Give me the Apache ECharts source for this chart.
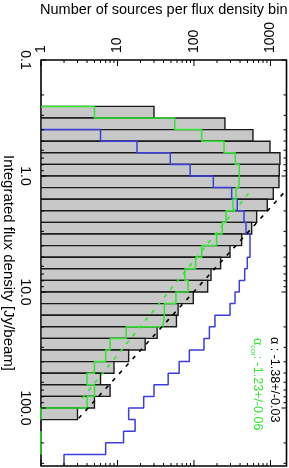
<!DOCTYPE html>
<html><head><meta charset="utf-8">
<script src="https://cdn.jsdelivr.net/npm/echarts@6/dist/echarts.min.js"></script>
<style>html,body{margin:0;padding:0;background:#fff}#c{width:289px;height:468px}</style>
</head><body><div id="c"></div>
<script>
// ---- data ----
const binLogEdges = [-0.6,-0.5,-0.4,-0.3,-0.2,-0.1,0.0,0.1,0.2,0.3,0.4,0.5,0.6,0.7,0.8,0.9,1.0,1.1,1.2,1.3,1.4,1.5,1.6,1.7,1.8,1.9,2.0,2.1,2.2,2.3,2.4,2.5];
const totalCounts = [30,254,590,985,1330,1303,1292,1088,908,660,568,420,296,223,167,151,98,62,59,33,23,14,9,6,8,5,3,0,0,0,0];
const blueCounts  = [null,null,6,18,49,89,179,311,368,451,479,540,540,498,460,391,344,296,188,159,135,87,64,46,30,22,14,17,12,7,2];
const greenCounts = [5,56,126,247,347,391,388,354,324,262,234,198,126,105,76,84,58,41,39,13,8,7,5,4,5,4,1,null,1,1,null];
const xTickLabels = ['1','10','100','1000'];
const yTickLabels = ['0.1','1.0','10.0','100.0'];
const fitAll = {alpha:-1.38, err:0.03, logNorm:3.375, logSmin:0.15, logSmax:2.1};
const fitCor = {alpha:-1.23, err:0.06, logNorm:2.897, logSmin:0.15, logSmax:1.95};
const xMin = 1, xMax = 1620, yMin = 0.1, yMax = 316.2278;

// ---- helpers ----
const BLUE = '#3c3ce0', GREEN = '#2ee82e', FONT = 'Liberation Sans, Arial, sans-serif';
function isPow10(v){ const l = Math.log10(v); return Math.abs(l - Math.round(l)) < 1e-6; }
function edge(i){ return Math.pow(10, binLogEdges[i]); }
function stepSegments(counts){
  const segs = []; let cur = null;
  for (let i = 0; i < counts.length; i++){
    const v = counts[i], lo = edge(i), hi = edge(i+1);
    if (v == null){ if (cur){ cur.push([xMin, lo]); segs.push(cur); cur = null; } continue; }
    if (!cur) cur = [[xMin, lo]];
    cur.push([v, lo], [v, hi]);
  }
  if (cur) segs.push(cur);
  return segs;
}
function fitLine(f){
  return [f.logSmin, f.logSmax].map(ls => [Math.pow(10, f.logNorm + f.alpha*ls), Math.pow(10, ls)]);
}
const barData = [];
totalCounts.forEach((c, i) => { if (c > 1) barData.push([c, edge(i), edge(i+1)]); });
const xTickVals = [], yTickVals = [];
for (let d = 1; d <= 1000; d *= 10) for (let k = 1; k <= 9; k++){ const v = k*d; if (v >= xMin && v <= xMax) xTickVals.push(v); }
for (let d = 0.1; d <= 100.0001; d *= 10) for (let k = 1; k <= 9; k++){ const v = +(k*d).toPrecision(6); if (v >= yMin && v <= yMax) yTickVals.push(v); }

const series = [];
series.push({
  type:'custom', coordinateSystem:'cartesian2d', data: barData, encode:{x:0, y:[1,2]}, z:2, silent:true, clip:true,
  renderItem: (params, api) => {
    const p1 = api.coord([xMin, api.value(1)]), p2 = api.coord([api.value(0), api.value(2)]);
    return {type:'rect', shape:{x:p1[0], y:Math.min(p1[1],p2[1]), width:p2[0]-p1[0], height:Math.abs(p2[1]-p1[1])},
      style:{fill:'#c8c8c8', stroke:'#1a1a1a', lineWidth:1.4}};
  }
});
stepSegments(blueCounts).forEach(seg => series.push({type:'line', data:seg, symbol:'none', z:3, silent:true, clip:true, lineStyle:{color:BLUE, width:1.5}}));
stepSegments(greenCounts).forEach(seg => series.push({type:'line', data:seg, symbol:'none', z:4, silent:true, clip:true, lineStyle:{color:GREEN, width:1.5}}));
series.push({type:'line', data:fitLine(fitAll), symbol:'none', z:5, silent:true, clip:true, lineStyle:{color:'#000', width:1.6, type:[4,6]}});
series.push({type:'line', data:fitLine(fitCor), symbol:'none', z:5, silent:true, clip:true, lineStyle:{color:GREEN, width:1.6, type:[4,6]}});
// axis ticks (log minor ticks on all four sides)
series.push({
  type:'custom', coordinateSystem:'cartesian2d', data: xTickVals.map(v => [v, yMin]), encode:{x:0, y:1}, z:6, silent:true,
  renderItem: (params, api) => {
    const cs = params.coordSys, v = api.value(0), px = api.coord([v, yMin])[0], L = isPow10(v) ? 6 : 3;
    return {type:'group', children:[
      {type:'line', shape:{x1:px, y1:cs.y, x2:px, y2:cs.y+L}, style:{stroke:'#000', lineWidth:1}},
      {type:'line', shape:{x1:px, y1:cs.y+cs.height, x2:px, y2:cs.y+cs.height-L}, style:{stroke:'#000', lineWidth:1}}]};
  }
});
series.push({
  type:'custom', coordinateSystem:'cartesian2d', data: yTickVals.map(v => [xMin, v]), encode:{x:0, y:1}, z:6, silent:true,
  renderItem: (params, api) => {
    const cs = params.coordSys, v = api.value(1), py = api.coord([xMin, v])[1], L = isPow10(v) ? 5 : 3;
    return {type:'group', children:[
      {type:'line', shape:{x1:cs.x, y1:py, x2:cs.x+L, y2:py}, style:{stroke:'#000', lineWidth:1}},
      {type:'line', shape:{x1:cs.x+cs.width, y1:py, x2:cs.x+cs.width-L, y2:py}, style:{stroke:'#000', lineWidth:1}}]};
  }
});

const chart = echarts.init(document.getElementById('c'), null, {renderer:'canvas'});
chart.setOption({
  animation:false,
  textStyle:{fontFamily:FONT},
  grid:{left:41, right:2.5, top:60, bottom:2, containLabel:false, outerBoundsMode:'none', show:true, borderColor:'#000', borderWidth:1.6, backgroundColor:'transparent'},
  xAxis:{type:'log', logBase:10, position:'top', min:xMin, max:xMax, nameMoveOverlap:false,
    axisLine:{show:false}, axisTick:{show:false}, splitLine:{show:false}, minorTick:{show:false},
    axisLabel:{rotate:-90, margin:7, fontSize:14, color:'#000', fontFamily:FONT,
      formatter: v => isPow10(v) ? xTickLabels[Math.round(Math.log10(v))] : ''},
    name:'Number of sources per flux density bin', nameLocation:'middle', nameGap:43,
    nameTextStyle:{fontSize:14.5, color:'#000', fontFamily:FONT}},
  yAxis:{type:'log', logBase:10, inverse:true, min:yMin, max:yMax, nameMoveOverlap:false,
    axisLine:{show:false}, axisTick:{show:false}, splitLine:{show:false}, minorTick:{show:false},
    axisLabel:{rotate:-90, margin:9, fontSize:14, color:'#000', fontFamily:FONT,
      formatter: v => isPow10(v) ? yTickLabels[Math.round(Math.log10(v)) + 1] : ''},
    name:'Integrated flux density [Jy/beam]', nameLocation:'middle', nameRotate:-90, nameGap:25,
    nameTextStyle:{fontSize:15, color:'#000', fontFamily:FONT}},
  graphic:[
    {type:'text', x:274, y:337, rotation:-Math.PI/2, silent:true,
      style:{text:'α : ' + fitAll.alpha.toFixed(2) + '+/-' + fitAll.err.toFixed(2), fill:'#000', font:'12.5px ' + FONT, align:'left', verticalAlign:'middle'}},
    {type:'text', x:257, y:338, rotation:-Math.PI/2, silent:true,
      style:{text:'{a|α}{s|cor}{a|: ' + fitCor.alpha.toFixed(2) + '+/-' + fitCor.err.toFixed(2) + '}', fill:GREEN, align:'left', verticalAlign:'middle',
        rich:{a:{fontSize:12.5, fontFamily:FONT, fill:GREEN, lineHeight:15, verticalAlign:'middle'},
              s:{fontSize:7.5, fontFamily:FONT, fill:GREEN, lineHeight:15, verticalAlign:'bottom'}}}}
  ],
  series: series
});
</script></body></html>
